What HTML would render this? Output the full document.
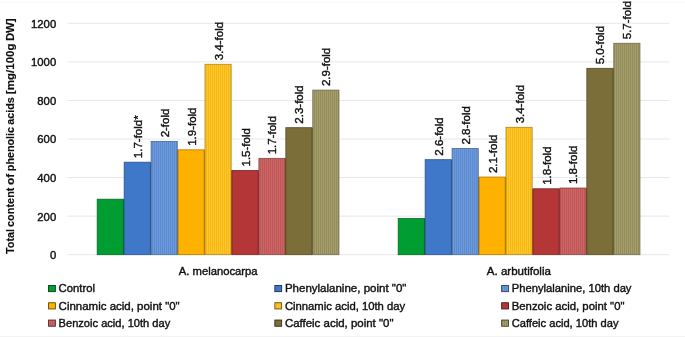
<!DOCTYPE html><html><head><meta charset="utf-8"><style>html,body{margin:0;padding:0;background:#fff;}svg{display:block;will-change:transform;}text{font-family:"Liberation Sans",sans-serif;fill:#111;stroke:#111;stroke-width:0.4px;}</style></head><body>
<svg width="685" height="337" viewBox="0 0 685 337">
<defs>
<pattern id="p2" patternUnits="userSpaceOnUse" width="2" height="4"><rect width="2" height="4" fill="#6C9ADC"/><rect width="1" height="4" fill="#5D8BD0"/></pattern>
<pattern id="p4" patternUnits="userSpaceOnUse" width="2" height="4"><rect width="2" height="4" fill="#FFC62A"/><rect width="1" height="4" fill="#F4B818"/></pattern>
<pattern id="p6" patternUnits="userSpaceOnUse" width="2" height="4"><rect width="2" height="4" fill="#CB6666"/><rect width="1" height="4" fill="#C05656"/></pattern>
<pattern id="p8" patternUnits="userSpaceOnUse" width="2" height="4"><rect width="2" height="4" fill="#A49E6C"/><rect width="1" height="4" fill="#948C5A"/></pattern>
</defs>
<rect width="685" height="337" fill="#fff"/>
<line x1="0" x2="685" y1="336.5" y2="336.5" stroke="#F3F3F3" stroke-width="1"/>
<line x1="0" x2="685" y1="2.5" y2="2.5" stroke="#FBFBFB" stroke-width="1"/>
<line x1="67.5" x2="669.5" y1="254.70" y2="254.70" stroke="#E8E8E8" stroke-width="1"/>
<line x1="67.5" x2="669.5" y1="216.13" y2="216.13" stroke="#E8E8E8" stroke-width="1"/>
<line x1="67.5" x2="669.5" y1="177.57" y2="177.57" stroke="#E8E8E8" stroke-width="1"/>
<line x1="67.5" x2="669.5" y1="139.00" y2="139.00" stroke="#E8E8E8" stroke-width="1"/>
<line x1="67.5" x2="669.5" y1="100.43" y2="100.43" stroke="#E8E8E8" stroke-width="1"/>
<line x1="67.5" x2="669.5" y1="61.87" y2="61.87" stroke="#E8E8E8" stroke-width="1"/>
<line x1="67.5" x2="669.5" y1="23.30" y2="23.30" stroke="#E8E8E8" stroke-width="1"/>
<text x="56.2" y="259.10" font-size="11.3" text-anchor="end">0</text>
<text x="56.2" y="220.53" font-size="11.3" text-anchor="end">200</text>
<text x="56.2" y="181.97" font-size="11.3" text-anchor="end">400</text>
<text x="56.2" y="143.40" font-size="11.3" text-anchor="end">600</text>
<text x="56.2" y="104.83" font-size="11.3" text-anchor="end">800</text>
<text x="56.2" y="66.27" font-size="11.3" text-anchor="end">1000</text>
<text x="56.2" y="27.70" font-size="11.3" text-anchor="end">1200</text>
<rect x="122.95" y="199.30" width="1.6" height="55.40" fill="#00611f"/>
<rect x="149.90" y="162.29" width="1.6" height="92.41" fill="#27497c"/>
<rect x="176.85" y="149.95" width="1.6" height="104.75" fill="#425f88"/>
<rect x="203.80" y="149.95" width="1.6" height="104.75" fill="#9e6d00"/>
<rect x="230.75" y="170.58" width="1.6" height="84.12" fill="#9e7a1a"/>
<rect x="257.70" y="170.58" width="1.6" height="84.12" fill="#6f2121"/>
<rect x="284.65" y="158.43" width="1.6" height="96.27" fill="#7d3f3f"/>
<rect x="311.60" y="127.78" width="1.6" height="126.91" fill="#4c4422"/>
<rect x="97.20" y="199.20" width="26.15" height="55.50" fill="#009D33" stroke="#006a22" stroke-width="0.8"/>
<rect x="124.15" y="162.19" width="26.15" height="92.51" fill="#3F77C9" stroke="#2a5088" stroke-width="0.8"/>
<text transform="translate(141.72,158.19) rotate(-90)" font-size="11.5">1.7-fold*</text>
<rect x="151.10" y="141.37" width="26.15" height="113.33" fill="url(#p2)" stroke="#496895" stroke-width="0.8"/>
<text transform="translate(168.67,137.37) rotate(-90)" font-size="11.5">2-fold</text>
<rect x="178.05" y="149.85" width="26.15" height="104.85" fill="#FFB100" stroke="#ad7800" stroke-width="0.8"/>
<text transform="translate(195.62,145.85) rotate(-90)" font-size="11.5">1.9-fold</text>
<rect x="205.00" y="64.27" width="26.15" height="190.43" fill="url(#p4)" stroke="#ad861c" stroke-width="0.8"/>
<text transform="translate(222.57,60.27) rotate(-90)" font-size="11.5">3.4-fold</text>
<rect x="231.95" y="170.48" width="26.15" height="84.22" fill="#B43636" stroke="#7a2424" stroke-width="0.8"/>
<text transform="translate(249.53,166.48) rotate(-90)" font-size="11.5">1.5-fold</text>
<rect x="258.90" y="158.33" width="26.15" height="96.37" fill="url(#p6)" stroke="#8a4545" stroke-width="0.8"/>
<text transform="translate(276.48,154.33) rotate(-90)" font-size="11.5">1.7-fold</text>
<rect x="285.85" y="127.69" width="26.15" height="127.01" fill="#7B6E38" stroke="#534a26" stroke-width="0.8"/>
<text transform="translate(303.43,123.69) rotate(-90)" font-size="11.5">2.3-fold</text>
<rect x="312.80" y="90.10" width="26.15" height="164.60" fill="url(#p8)" stroke="#6f6b49" stroke-width="0.8"/>
<text transform="translate(330.38,86.10) rotate(-90)" font-size="11.5">2.9-fold</text>
<rect x="423.95" y="218.57" width="1.6" height="36.13" fill="#00611f"/>
<rect x="450.90" y="159.78" width="1.6" height="94.92" fill="#27497c"/>
<rect x="477.85" y="177.13" width="1.6" height="77.57" fill="#425f88"/>
<rect x="504.80" y="177.13" width="1.6" height="77.57" fill="#9e6d00"/>
<rect x="531.75" y="188.89" width="1.6" height="65.81" fill="#9e7a1a"/>
<rect x="558.70" y="188.89" width="1.6" height="65.81" fill="#6f2121"/>
<rect x="585.65" y="188.12" width="1.6" height="66.58" fill="#7d3f3f"/>
<rect x="612.60" y="68.42" width="1.6" height="186.28" fill="#4c4422"/>
<rect x="398.20" y="218.47" width="26.15" height="36.23" fill="#009D33" stroke="#006a22" stroke-width="0.8"/>
<rect x="425.15" y="159.68" width="26.15" height="95.02" fill="#3F77C9" stroke="#2a5088" stroke-width="0.8"/>
<text transform="translate(442.73,155.68) rotate(-90)" font-size="11.5">2.6-fold</text>
<rect x="452.10" y="148.50" width="26.15" height="106.20" fill="url(#p2)" stroke="#496895" stroke-width="0.8"/>
<text transform="translate(469.68,144.50) rotate(-90)" font-size="11.5">2.8-fold</text>
<rect x="479.05" y="177.03" width="26.15" height="77.67" fill="#FFB100" stroke="#ad7800" stroke-width="0.8"/>
<text transform="translate(496.62,173.03) rotate(-90)" font-size="11.5">2.1-fold</text>
<rect x="506.00" y="127.30" width="26.15" height="127.40" fill="url(#p4)" stroke="#ad861c" stroke-width="0.8"/>
<text transform="translate(523.58,123.30) rotate(-90)" font-size="11.5">3.4-fold</text>
<rect x="532.95" y="188.79" width="26.15" height="65.91" fill="#B43636" stroke="#7a2424" stroke-width="0.8"/>
<text transform="translate(550.52,184.79) rotate(-90)" font-size="11.5">1.8-fold</text>
<rect x="559.90" y="188.02" width="26.15" height="66.68" fill="url(#p6)" stroke="#8a4545" stroke-width="0.8"/>
<text transform="translate(577.48,184.02) rotate(-90)" font-size="11.5">1.8-fold</text>
<rect x="586.85" y="68.32" width="26.15" height="186.38" fill="#7B6E38" stroke="#534a26" stroke-width="0.8"/>
<text transform="translate(604.43,64.32) rotate(-90)" font-size="11.5">5.0-fold</text>
<rect x="613.80" y="43.26" width="26.15" height="211.44" fill="url(#p8)" stroke="#6f6b49" stroke-width="0.8"/>
<text transform="translate(631.38,39.26) rotate(-90)" font-size="11.5">5.7-fold</text>
<text transform="translate(13.8,254.00) rotate(-90)" font-size="10.9" font-weight="bold" style="stroke-width:0.15px" textLength="25.10" lengthAdjust="spacingAndGlyphs">Total</text>
<text transform="translate(13.8,227.10) rotate(-90)" font-size="10.9" font-weight="bold" style="stroke-width:0.15px" textLength="39.60" lengthAdjust="spacingAndGlyphs">content</text>
<text transform="translate(13.8,185.00) rotate(-90)" font-size="10.9" font-weight="bold" style="stroke-width:0.15px" textLength="11.30" lengthAdjust="spacingAndGlyphs">of</text>
<text transform="translate(13.8,171.20) rotate(-90)" font-size="10.9" font-weight="bold" style="stroke-width:0.15px" textLength="44.30" lengthAdjust="spacingAndGlyphs">phenolic</text>
<text transform="translate(13.8,124.80) rotate(-90)" font-size="10.9" font-weight="bold" style="stroke-width:0.15px" textLength="27.60" lengthAdjust="spacingAndGlyphs">acids</text>
<text transform="translate(13.8,94.20) rotate(-90)" font-size="10.9" font-weight="bold" style="stroke-width:0.15px" textLength="50.80" lengthAdjust="spacingAndGlyphs">[mg/100g</text>
<text transform="translate(13.8,41.10) rotate(-90)" font-size="10.9" font-weight="bold" style="stroke-width:0.15px" textLength="22.60" lengthAdjust="spacingAndGlyphs">DW]</text>
<text x="178.8" y="274.6" font-size="11.3" textLength="78.8" lengthAdjust="spacingAndGlyphs">A. melanocarpa</text>
<text x="486.8" y="274.5" font-size="11.3" textLength="64.1" lengthAdjust="spacingAndGlyphs">A. arbutifolia</text>
<rect x="48.55" y="285.45" width="6.8" height="6.2" fill="#009D33" stroke="#003f14" stroke-width="0.9"/>
<text x="58.60" y="292.20" font-size="11.3" textLength="36.4" lengthAdjust="spacingAndGlyphs">Control</text>
<rect x="274.85" y="285.45" width="6.8" height="6.2" fill="#3F77C9" stroke="#193051" stroke-width="0.9"/>
<text x="284.90" y="292.20" font-size="11.3" textLength="121.5" lengthAdjust="spacingAndGlyphs">Phenylalanine, point &quot;0&quot;</text>
<rect x="501.65" y="285.45" width="6.8" height="6.2" fill="url(#p2)" stroke="#2b3e59" stroke-width="0.9"/>
<text x="511.70" y="292.20" font-size="11.3" textLength="119.8" lengthAdjust="spacingAndGlyphs">Phenylalanine, 10th day</text>
<rect x="48.55" y="302.75" width="6.8" height="6.2" fill="#FFB100" stroke="#674800" stroke-width="0.9"/>
<text x="58.60" y="309.50" font-size="11.3" textLength="121.1" lengthAdjust="spacingAndGlyphs">Cinnamic acid, point &quot;0&quot;</text>
<rect x="274.85" y="302.75" width="6.8" height="6.2" fill="url(#p4)" stroke="#675010" stroke-width="0.9"/>
<text x="284.90" y="309.50" font-size="11.3" textLength="120.3" lengthAdjust="spacingAndGlyphs">Cinnamic acid, 10th day</text>
<rect x="501.65" y="302.75" width="6.8" height="6.2" fill="#B43636" stroke="#491515" stroke-width="0.9"/>
<text x="511.70" y="309.50" font-size="11.3" textLength="112.8" lengthAdjust="spacingAndGlyphs">Benzoic acid, point &quot;0&quot;</text>
<rect x="48.55" y="320.05" width="6.8" height="6.2" fill="url(#p6)" stroke="#522929" stroke-width="0.9"/>
<text x="58.60" y="326.80" font-size="11.3" textLength="111.6" lengthAdjust="spacingAndGlyphs">Benzoic acid, 10th day</text>
<rect x="274.85" y="320.05" width="6.8" height="6.2" fill="#7B6E38" stroke="#312c16" stroke-width="0.9"/>
<text x="284.90" y="326.80" font-size="11.3" textLength="108.6" lengthAdjust="spacingAndGlyphs">Caffeic acid, point &quot;0&quot;</text>
<rect x="501.65" y="320.05" width="6.8" height="6.2" fill="url(#p8)" stroke="#42402b" stroke-width="0.9"/>
<text x="511.70" y="326.80" font-size="11.3" textLength="106.8" lengthAdjust="spacingAndGlyphs">Caffeic acid, 10th day</text>
</svg></body></html>
